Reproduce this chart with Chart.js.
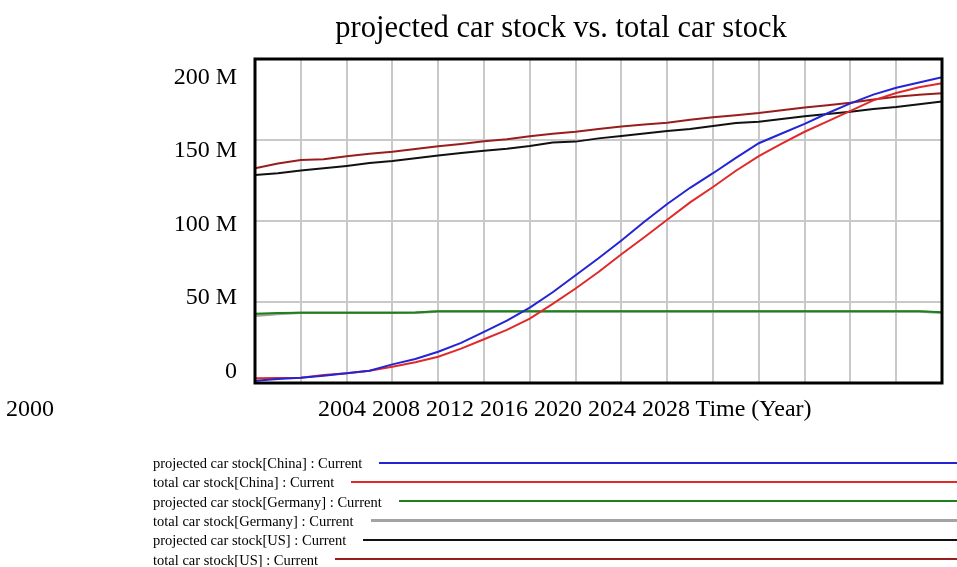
<!DOCTYPE html>
<html>
<head>
<meta charset="utf-8">
<title>projected car stock vs. total car stock</title>
<script src="https://cdn.jsdelivr.net/npm/chart.js@4.4.1/dist/chart.umd.min.js"></script>
<style>
  html, body { margin: 0; padding: 0; background: #fff; }
  body {
    width: 957px; height: 567px; position: relative; overflow: hidden;
    font-family: "Liberation Serif", "Times New Roman", serif; color: #000;
  }
  #chartCar { position: absolute; left: 0; top: 0; }
  .vs-title {
    position: absolute; top: 10px; left: 561px; transform: translateX(-50%);
    font-size: 30.5px; white-space: nowrap;
  }
  .vs-xlab { position: absolute; top: 395px; font-size: 24px; white-space: nowrap; }
  .vs-legend { position: absolute; left: 153px; top: 454px; width: 804px; }
  .vs-row { display: flex; align-items: center; height: 19.3px; font-size: 14.5px; }
  .vs-row span { white-space: nowrap; }
  .vs-row i { flex: 1; margin-left: 17px; display: block; margin-top: -2px; }
</style>
</head>
<body>
<canvas id="chartCar" width="957" height="567"></canvas>
<div class="vs-title">projected car stock vs. total car stock</div>
<div class="vs-xlab" style="left:6px">2000</div>
<div class="vs-xlab" style="left:318px">2004 2008 2012 2016 2020 2024 2028 Time (Year)</div>
<div class="vs-legend" id="vsLegend"></div>

<script>
  var years = [2000, 2001, 2002, 2003, 2004, 2005, 2006, 2007, 2008, 2009, 2010,
    2011, 2012, 2013, 2014, 2015, 2016, 2017, 2018, 2019, 2020,
    2021, 2022, 2023, 2024, 2025, 2026, 2027, 2028, 2029, 2030];

  // millions of cars
  var projChina = [1.4, 2.5, 3.3, 4.5, 6.0, 7.6, 11.5, 14.8, 19.3, 24.8, 31.5,
    38.5, 46.5, 56.0, 66.5, 77.0, 88.0, 99.5, 110.5, 120.5, 129.5,
    139.0, 148.0, 154.0, 160.0, 166.5, 172.6, 178.0, 182.3, 185.5, 188.7];
  var totalChina = [2.9, 3.1, 3.3, 5.0, 6.0, 7.6, 10.0, 12.8, 16.2, 21.2, 27.0,
    32.8, 39.8, 48.8, 58.3, 68.5, 79.5, 90.0, 100.8, 111.5, 121.0,
    131.0, 140.0, 147.8, 155.1, 161.5, 168.0, 174.5, 179.0, 182.5, 185.0];
  var projGermany = [42.8, 43.2, 43.4, 43.4, 43.4, 43.4, 43.4, 43.5, 44.3, 44.3, 44.3,
    44.3, 44.3, 44.3, 44.3, 44.3, 44.3, 44.3, 44.3, 44.3, 44.3,
    44.3, 44.3, 44.3, 44.3, 44.3, 44.3, 44.3, 44.3, 44.3, 43.7];
  var totalGermany = [41.5, 42.6, 43.3, 43.3, 43.3, 43.3, 43.3, 43.4, 44.2, 44.2, 44.2,
    44.2, 44.2, 44.2, 44.2, 44.2, 44.2, 44.2, 44.2, 44.2, 44.2,
    44.2, 44.2, 44.2, 44.2, 44.2, 44.2, 44.2, 44.2, 44.1, 43.3];
  var projUS = [128.4, 129.5, 131.1, 132.5, 134.0, 135.8, 137.0, 138.8, 140.5, 142.0, 143.4,
    144.6, 146.3, 148.4, 149.0, 151.0, 152.5, 154.0, 155.6, 156.8, 158.6,
    160.5, 161.3, 163.0, 164.6, 166.0, 167.5, 169.2, 170.4, 172.0, 173.8];
  var totalUS = [132.5, 135.5, 137.7, 138.1, 140.0, 141.5, 142.8, 144.5, 146.2, 147.6, 149.3,
    150.4, 152.3, 153.8, 155.1, 156.8, 158.4, 159.5, 160.6, 162.5, 164.0,
    165.3, 166.6, 168.3, 170.0, 171.5, 173.0, 175.0, 176.7, 178.0, 178.8];

  var seriesNames = [
    "projected car stock[China] : Current",
    "total car stock[China] : Current",
    "projected car stock[Germany] : Current",
    "total car stock[Germany] : Current",
    "projected car stock[US] : Current",
    "total car stock[US] : Current"
  ];
  var seriesValues = [projChina, totalChina, projGermany, totalGermany, projUS, totalUS];
  var seriesColors = ["#2424d4", "#e02a2a", "#1b821b", "#a3a3a3", "#111111", "#9a1d1d"];
  var seriesWidths = [2, 2, 2, 3, 2, 2];

  var yTicks = [0, 50, 100, 150, 200];

  (function () {
    "use strict";

    var serif = "'Liberation Serif', 'Times New Roman', serif";

    var frame = {
      id: "frame",
      afterDraw: function (chart) {
        var a = chart.chartArea;
        var ctx = chart.ctx;
        ctx.save();
        ctx.strokeStyle = "#000";
        ctx.lineWidth = 3;
        ctx.strokeRect(a.left, a.top, a.right - a.left, a.bottom - a.top);
        ctx.restore();
      }
    };

    var datasets = seriesNames.map(function (name, i) {
      return {
        label: name,
        data: years.map(function (yr, k) { return { x: yr, y: seriesValues[i][k] }; }),
        borderColor: seriesColors[i],
        borderWidth: i === 3 ? 2.5 : 2,
        pointRadius: 0,
        tension: 0,
        fill: false
      };
    });

    new Chart(document.getElementById("chartCar"), {
      type: "line",
      data: { datasets: datasets },
      options: {
        responsive: false,
        animation: false,
        layout: { padding: { left: 0, top: 59, right: 15, bottom: 184 } },
        plugins: {
          legend: { display: false },
          tooltip: { enabled: false },
          title: { display: false }
        },
        scales: {
          x: {
            type: "linear",
            min: 2000,
            max: 2030,
            ticks: { display: false, stepSize: 2 },
            grid: { color: "#c9c9c9", lineWidth: 2, drawTicks: false },
            border: { display: false },
            afterFit: function (s) { s.height = 0; }
          },
          y: {
            position: "left",
            min: 0,
            max: 200,
            ticks: { display: false, stepSize: 50 },
            grid: { color: "#c9c9c9", lineWidth: 2, drawTicks: false },
            border: { display: false },
            afterFit: function (s) { s.width = 0; }
          },
          yl: {
            position: "left",
            min: -7.7,
            max: 212.7,
            grid: { display: false },
            border: { display: false },
            ticks: {
              padding: 10,
              color: "#000",
              font: { family: serif, size: 24 },
              callback: function (v) { return v === 0 ? "0" : v + " M"; }
            },
            afterBuildTicks: function (s) {
              s.ticks = yTicks.map(function (v) { return { value: v }; });
            },
            afterFit: function (s) { s.width = 255; }
          }
        }
      },
      plugins: [frame]
    });

    // legend rows, Vensim style: label then a long line to the right edge
    var box = document.getElementById("vsLegend");
    seriesNames.forEach(function (name, i) {
      var row = document.createElement("div");
      row.className = "vs-row";
      var txt = document.createElement("span");
      txt.textContent = name;
      var line = document.createElement("i");
      line.style.height = seriesWidths[i] + "px";
      line.style.background = seriesColors[i];
      row.appendChild(txt);
      row.appendChild(line);
      box.appendChild(row);
    });
  })();
</script>
</body>
</html>
